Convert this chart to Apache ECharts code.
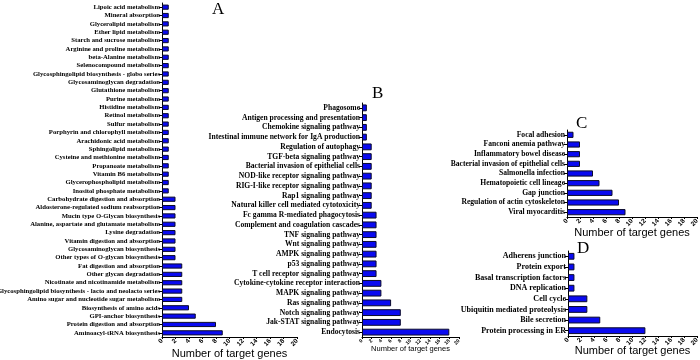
<!DOCTYPE html>
<html>
<head>
<meta charset="utf-8">
<script src="https://cdn.jsdelivr.net/npm/echarts@6/dist/echarts.min.js"></script>
<style>
  html, body { margin: 0; padding: 0; background: #fff; }
  #chart { width: 700px; height: 360px; }
</style>
</head>
<body>
<div id="chart"></div>
<script>
// panel A - metabolism pathways (top to bottom)
const catsA = [
  'Lipoic acid metabolism', 'Mineral absorption', 'Glycerolipid metabolism', 'Ether lipid metabolism',
  'Starch and sucrose metabolism', 'Arginine and proline metabolism', 'beta-Alanine metabolism',
  'Selenocompound metabolism', 'Glycosphingolipid biosynthesis - globo series', 'Glycosaminoglycan degradation',
  'Glutathione metabolism', 'Purine metabolism', 'Histidine metabolism', 'Retinol metabolism',
  'Sulfur metabolism', 'Porphyrin and chlorophyll metabolism', 'Arachidonic acid metabolism',
  'Sphingolipid metabolism', 'Cysteine and methionine metabolism', 'Propanoate metabolism',
  'Vitamin B6 metabolism', 'Glycerophospholipid metabolism', 'Inositol phosphate metabolism',
  'Carbohydrate digestion and absorption', 'Aldosterone-regulated sodium reabsorption',
  'Mucin type O-Glycan biosynthesis', 'Alanine, aspartate and glutamate metabolism', 'Lysine degradation',
  'Vitamin digestion and absorption', 'Glycosaminoglycan biosynthesis', 'Other types of O-glycan biosynthesis',
  'Fat digestion and absorption', 'Other glycan degradation', 'Nicotinate and nicotinamide metabolism',
  'Glycosphingolipid biosynthesis - lacto and neolacto series', 'Amino sugar and nucleotide sugar metabolism',
  'Biosynthesis of amino acids', 'GPI-anchor biosynthesis', 'Protein digestion and absorption',
  'Aminoacyl-tRNA biosynthesis'
];
const valsA = [1, 1, 1, 1, 1, 1, 1, 1, 1, 1, 1, 1, 1, 1, 1, 1, 1, 1, 1, 1, 1, 1, 1,
  2, 2, 2, 2, 2, 2, 2, 2, 3, 3, 3, 3, 3, 4, 5, 8, 9];

// panel B - signalling / immune
const catsB = [
  'Phagosome', 'Antigen processing and presentation', 'Chemokine signaling pathway',
  'Intestinal immune network for IgA production', 'Regulation of autophagy', 'TGF-beta signaling pathway',
  'Bacterial invasion of epithelial cells', 'NOD-like receptor signaling pathway',
  'RIG-I-like receptor signaling pathway', 'Rap1 signaling pathway', 'Natural killer cell mediated cytotoxicity',
  'Fc gamma R-mediated phagocytosis', 'Complement and coagulation cascades', 'TNF signaling pathway',
  'Wnt signaling pathway', 'AMPK signaling pathway', 'p53 signaling pathway', 'T cell receptor signaling pathway',
  'Cytokine-cytokine receptor interaction', 'MAPK signaling pathway', 'Ras signaling pathway',
  'Notch signaling pathway', 'Jak-STAT signaling pathway', 'Endocytosis'
];
const valsB = [1, 1, 1, 1, 2, 2, 2, 2, 2, 2, 2, 3, 3, 3, 3, 3, 3, 3, 4, 4, 6, 8, 8, 18];

// panel C
const catsC = [
  'Focal adhesion', 'Fanconi anemia pathway', 'Inflammatory bowel disease',
  'Bacterial invasion of epithelial cells', 'Salmonella infection', 'Hematopoietic cell lineage',
  'Gap junction', 'Regulation of actin cytoskeleton', 'Viral myocarditis'
];
const valsC = [1, 2, 2, 2, 4, 5, 7, 8, 9];

// panel D
const catsD = [
  'Adherens junction', 'Protein export', 'Basal transcription factors', 'DNA replication',
  'Cell cycle', 'Ubiquitin mediated proteolysis', 'Bile secretion', 'Protein processing in ER'
];
const valsD = [1, 1, 1, 1, 3, 3, 5, 12];

const panelLetters = ['A', 'B', 'C', 'D'];
const xTicks = { min: 0, max: 20, interval: 2 };

const chart = echarts.init(document.getElementById('chart'));

const serif = 'Liberation Serif';
const sans = 'Liberation Sans';

function xAx(idx, nameSize, labelSize, gap) {
  return {
    gridIndex: idx,
    type: 'value',
    min: xTicks.min,
    max: xTicks.max,
    interval: xTicks.interval,
    name: 'Number of target genes',
    nameLocation: 'middle',
    nameGap: gap,
    nameMoveOverlap: false,
    nameTextStyle: { fontFamily: sans, fontSize: nameSize, color: '#000', verticalAlign: 'top' },
    axisLine: { show: true, lineStyle: { color: '#000', width: 1 } },
    axisTick: { show: true, length: 2, lineStyle: { color: '#000' } },
    axisLabel: { rotate: 45, fontFamily: sans, fontWeight: 'bold', fontSize: labelSize, color: '#000', margin: 3 },
    splitLine: { show: false }
  };
}

function yAx(idx, cats, size) {
  return {
    gridIndex: idx,
    type: 'category',
    inverse: true,
    data: cats,
    axisLine: { show: true, lineStyle: { color: '#000', width: 1 } },
    axisTick: { show: true, alignWithLabel: true, length: 3, lineStyle: { color: '#000' } },
    axisLabel: { interval: 0, fontFamily: serif, fontWeight: 'bold', fontSize: size, color: '#000', margin: 2 }
  };
}

function bars(idx, vals, w) {
  return {
    type: 'bar',
    xAxisIndex: idx,
    yAxisIndex: idx,
    data: vals,
    barWidth: w,
    itemStyle: { color: '#0a0af0', borderColor: '#0b0b2a', borderWidth: 1 },
    silent: true
  };
}

chart.setOption({
  animation: false,
  backgroundColor: '#fff',
  title: [
    { text: panelLetters[0], left: 212, top: 1 },
    { text: panelLetters[1], left: 372, top: 85 },
    { text: panelLetters[2], left: 576, top: 115 },
    { text: panelLetters[3], left: 577, top: 240 }
  ].map(t => Object.assign(t, {
    padding: 0,
    textStyle: { fontFamily: serif, fontWeight: 'normal', fontSize: 17, color: '#000' }
  })),
  grid: [
    { left: 162, top: 3, width: 135, height: 334 },
    { left: 362, top: 103, width: 97, height: 234 },
    { left: 567, top: 130, width: 130, height: 87 },
    { left: 568, top: 251, width: 129, height: 85 }
  ].map(g => Object.assign(g, { containLabel: false, outerBoundsMode: 'none' })),
  xAxis: [
    xAx(0, 11, 6.5, 11),
    xAx(1, 7.5, 5, 8),
    xAx(2, 11, 6.5, 10),
    xAx(3, 11, 6.5, 9)
  ],
  yAxis: [
    yAx(0, catsA, 6.7),
    yAx(1, catsB, 7.6),
    yAx(2, catsC, 7.6),
    yAx(3, catsD, 8)
  ],
  series: [
    bars(0, valsA, '62%'),
    bars(1, valsB, '70%'),
    bars(2, valsC, '64%'),
    bars(3, valsD, '64%')
  ]
});
</script>
</body>
</html>
